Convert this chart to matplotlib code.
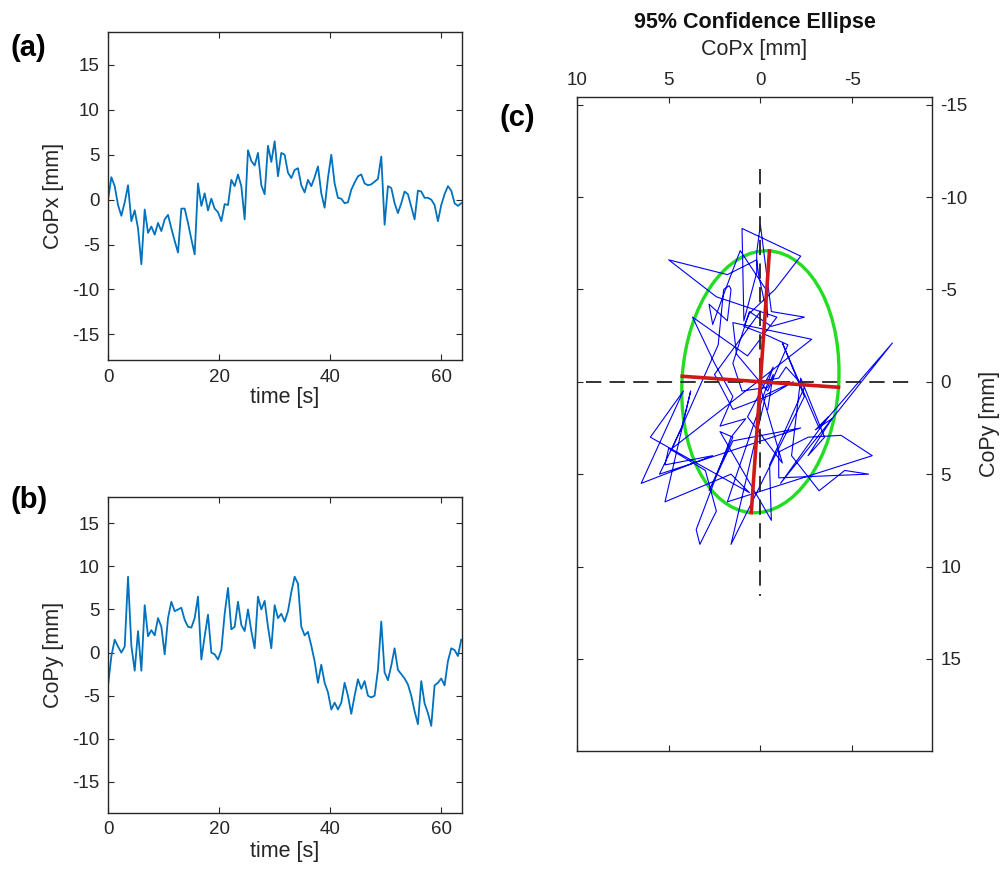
import numpy as np
import matplotlib
matplotlib.use("Agg")
import matplotlib.pyplot as plt
from matplotlib.patches import Ellipse

plt.rcParams['font.family'] = ['Liberation Sans', 'DejaVu Sans']
plt.rcParams['lines.scale_dashes'] = False
plt.rcParams['axes.unicode_minus'] = False

# sampling step of the read-off points [s]
dt = 0.6

# CoPx [mm], one value every 0.6 s
copx = [0.0, 2.5, 1.5, -0.6, -1.8, -0.3, 1.6, -2.4, -1.2, -3.2,
        -7.2, -1.1, -3.7, -3.0, -3.9, -2.6, -3.5, -2.2, -1.7, -3.2,
        -4.6, -5.9, -1.0, -1.0, -2.6, -4.4, -6.1, 1.8, -0.7, 0.7,
        -1.2, 0.1, -1.0, -1.4, -2.4, -0.5, -0.6, 2.2, 1.5, 2.8,
        1.5, -2.2, 5.5, 4.3, 3.8, 5.2, 1.6, 0.6, 6.0, 4.2,
        6.5, 2.6, 5.2, 5.0, 3.0, 2.4, 3.3, 3.5, 1.6, 0.8,
        2.2, 1.5, 2.5, 3.7, 0.7, -0.9, 2.4, 5.0, 1.8, 0.2,
        0.1, -0.4, -0.3, 1.1, 1.9, 2.6, 2.8, 1.8, 1.6, 1.7,
        2.0, 2.3, 4.8, -2.8, 1.5, 1.3, -0.4, -1.5, -0.4, 0.9,
        0.6, -0.8, -2.2, 1.0, 0.9, 0.2, 0.2, 0.0, -0.6, -2.4,
        -0.6, 0.6, 1.5, 1.0, -0.4, -0.7, -0.4]

# CoPy [mm], same instants
copy = [-3.8, -0.4, 1.5, 0.7, 0.0, 0.7, 8.8, 0.8, -2.1, 2.5,
        -2.1, 5.5, 1.9, 2.6, 2.0, 4.0, 3.0, -0.2, 4.0, 5.9,
        4.8, 5.0, 5.2, 3.8, 3.0, 2.9, 4.0, 6.5, -0.8, 1.9,
        4.4, 0.0, -0.2, -0.8, 0.3, 4.5, 7.5, 2.7, 3.0, 5.9,
        3.2, 2.5, 5.0, 2.5, 0.5, 6.5, 5.0, 6.0, 3.0, 0.5,
        5.5, 4.0, 4.5, 3.6, 4.8, 7.0, 8.8, 8.0, 3.0, 2.0,
        2.4, 0.8, -1.0, -3.5, -1.4, -3.5, -4.6, -6.6, -5.8, -6.6,
        -5.8, -3.5, -5.0, -7.1, -5.0, -3.1, -4.2, -3.3, -5.0, -5.2,
        -5.0, -2.0, 3.6, -2.3, -3.2, -1.5, 0.5, -2.0, -2.5, -3.0,
        -3.7, -5.0, -6.8, -8.3, -3.3, -5.9, -7.0, -8.5, -3.8, -3.5,
        -3.0, -3.8, -1.0, 0.5, 0.3, -0.4, 1.5]

t = np.arange(len(copx)) * dt

# 95% ellipse
ell_center = (0.0, 0.0)
ell_semi_minor = 4.27
ell_semi_major = 7.1
ell_angle = -4.0
# dashed reference axes extent
hline_x = (9.5, -8.2)
vline_y = (-11.5, 11.6)

yticks = [-15, -10, -5, 0, 5, 10, 15]
tticks = [0, 20, 40, 60]

gray = '#262626'
tick_fs = 13.5
lab_fs = 15.5


def style(ax):
    ax.tick_params(direction='in', length=4, width=0.8, colors=gray,
                   labelsize=tick_fs, pad=6, top=True, right=True)
    for s in ax.spines.values():
        s.set_color(gray)
        s.set_linewidth(1.0)


fig = plt.figure(figsize=(10.05, 8.81), dpi=100)

# (a)
ax1 = fig.add_axes([0.1075, 0.591, 0.352, 0.373])
ax1.plot(t, copx, color='#0072BD', lw=1.3)
ax1.set_xlim(0, 63.7)
ax1.set_ylim(-17.9, 18.7)
ax1.set_xticks(tticks)
ax1.set_yticks(yticks)
ax1.set_xlabel('time [s]', fontsize=lab_fs, color=gray, labelpad=1)
ax1.set_ylabel('CoPx [mm]', fontsize=lab_fs, color=gray, labelpad=6)
style(ax1)

# (b)
ax2 = fig.add_axes([0.1075, 0.0772, 0.352, 0.3587])
ax2.plot(t, copy, color='#0072BD', lw=1.3)
ax2.set_xlim(0, 63.7)
ax2.set_ylim(-18.6, 18.05)
ax2.set_xticks(tticks)
ax2.set_yticks(yticks)
ax2.set_xlabel('time [s]', fontsize=lab_fs, color=gray, labelpad=2)
ax2.set_ylabel('CoPy [mm]', fontsize=lab_fs, color=gray, labelpad=6)
style(ax2)

# (c)
ax3 = fig.add_axes([0.5741, 0.1479, 0.3533, 0.7417])
ax3.plot(copx, copy, color='#0000ff', lw=0.8)
ax3.plot(hline_x, [0, 0], color='#222222', lw=1.3, dashes=(11, 6))
ax3.plot([0, 0], vline_y, color='#222222', lw=1.3, dashes=(11, 6))
ax3.add_patch(Ellipse(ell_center, 2 * ell_semi_minor, 2 * ell_semi_major,
                      angle=ell_angle, fill=False, edgecolor='#22dd22', lw=2.4))
a = np.deg2rad(ell_angle)
ux, uy = -np.sin(a) * ell_semi_major, np.cos(a) * ell_semi_major
vx, vy = np.cos(a) * ell_semi_minor, np.sin(a) * ell_semi_minor
cx, cy = ell_center
ax3.plot([cx - ux, cx + ux], [cy - uy, cy + uy], color='#d01818', lw=2.6)
ax3.plot([cx - vx, cx + vx], [cy - vy, cy + vy], color='#d01818', lw=2.6)
ax3.set_xlim(9.93, -9.36)
ax3.set_ylim(19.97, -15.4)
ax3.set_xticks([10, 5, 0, -5])
ax3.set_yticks(yticks)
ax3.xaxis.tick_top()
ax3.yaxis.tick_right()
ax3.xaxis.set_label_position('top')
ax3.yaxis.set_label_position('right')
ax3.set_xlabel('CoPx [mm]', fontsize=lab_fs, color=gray, labelpad=12)
ax3.set_ylabel('CoPy [mm]', fontsize=lab_fs, color=gray, labelpad=8)
ax3.set_title('95% Confidence Ellipse', fontsize=lab_fs, fontweight='bold',
              color='#111111', pad=8)
style(ax3)
ax3.tick_params(bottom=True, left=True, labelbottom=False, labelleft=False,
                labeltop=True, labelright=True)

fig.text(0.010, 0.945, '(a)', fontsize=21, fontweight='bold', va='center')
fig.text(0.010, 0.432, '(b)', fontsize=21, fontweight='bold', va='center')
fig.text(0.497, 0.866, '(c)', fontsize=21, fontweight='bold', va='center')

plt.savefig('out.png', dpi=100)
